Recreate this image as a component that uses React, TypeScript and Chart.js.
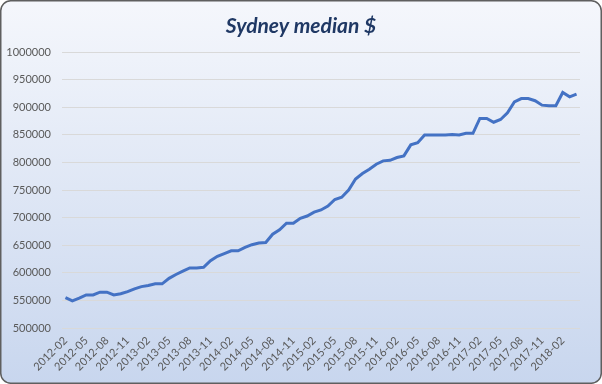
import React, { useEffect, useRef } from "react";
import { Chart, registerables } from "chart.js";

Chart.register(...registerables);

const title = "Sydney median $";

const months: string[] = (() => {
  const out: string[] = [];
  let y = 2012;
  let m = 2;
  for (let i = 0; i < 75; i++) {
    out.push(`${y}-${String(m).padStart(2, "0")}`);
    m++;
    if (m > 12) { m = 1; y++; }
  }
  return out;
})();

const medianPrice: number[] = [
  555000, 549000, 554000, 560000, 560000, 565000, 565000, 560000, 562000, 566000,
  571000, 575000, 577000, 580000, 580000, 590000, 597000, 603000, 609000, 609000,
  610000, 622000, 630000, 635000, 640000, 640000, 646000, 651000, 654000, 655000,
  670000, 678000, 690000, 690000, 699000, 703000, 710000, 714000, 721000, 733000,
  737000, 750000, 770000, 780000, 788000, 797000, 803000, 804000, 809000, 812000,
  832000, 836000, 850000, 850000, 850000, 850000, 851000, 850000, 853000, 853000,
  880000, 880000, 873000, 878000, 890000, 910000, 916000, 916000, 912000, 904000,
  903000, 903000, 927000, 919000, 924000,
];

const yMin = 500000;
const yMax = 1000000;
const yStep = 50000;

const bgPlugin = {
  id: "bgPanel",
  afterLayout(chart: any) {
    if (chart.titleBlock) {
      chart.titleBlock.left = 0;
      chart.titleBlock.right = chart.width;
    }
  },
  beforeDraw(chart: any) {
    const { ctx, width, height } = chart;
    ctx.save();
    const g = ctx.createLinearGradient(0, 0, 0, height);
    g.addColorStop(0, "#f5f7fc");
    g.addColorStop(1, "#c8d6ee");
    const r = 10;
    const x = 0.75, y = 0.75, w = width - 1.5, h = height - 1.5;
    ctx.beginPath();
    ctx.moveTo(x + r, y);
    ctx.lineTo(x + w - r, y);
    ctx.arcTo(x + w, y, x + w, y + r, r);
    ctx.lineTo(x + w, y + h - r);
    ctx.arcTo(x + w, y + h, x + w - r, y + h, r);
    ctx.lineTo(x + r, y + h);
    ctx.arcTo(x, y + h, x, y + h - r, r);
    ctx.lineTo(x, y + r);
    ctx.arcTo(x, y, x + r, y, r);
    ctx.closePath();
    ctx.fillStyle = g;
    ctx.fill();
    ctx.lineWidth = 1.5;
    ctx.strokeStyle = "#5f5f5f";
    ctx.stroke();
    ctx.restore();
  },
};

export default function App() {
  const ref = useRef<HTMLCanvasElement | null>(null);
  useEffect(() => {
    document.body.style.margin = "0";
    const canvas = ref.current!;
    const chart = new Chart(canvas, {
      type: "line",
      data: {
        labels: months,
        datasets: [
          {
            data: medianPrice,
            borderColor: "#4472c4",
            borderWidth: 3,
            pointRadius: 0,
            tension: 0,
            fill: false,
          },
        ],
      },
      options: {
        responsive: false,
        animation: false,
        layout: { padding: { left: 0, right: 22, top: 0, bottom: 0 } },
        plugins: {
          legend: { display: false },
          tooltip: { enabled: false },
          title: {
            display: true,
            text: title,
            color: "#1f3864",
            font: { family: "Lato", size: 21, weight: "bold", style: "italic" },
            padding: { top: 14, bottom: 13 },
          },
        },
        scales: {
          x: {
            type: "category",
            offset: true,
            grid: { display: false, drawTicks: false },
            border: { display: false },
            ticks: {
              autoSkip: false,
              maxRotation: 45,
              minRotation: 45,
              padding: 6,
              color: "#595959",
              font: { family: "Lato", size: 11 },
              callback: (_v: any, i: number) => (i % 3 === 0 ? months[i] : ""),
            },
            afterFit: (s: any) => { s.height = 56; },
          },
          y: {
            min: yMin,
            max: yMax,
            grid: { color: "#d9d9d9", drawTicks: false, lineWidth: 1 },
            border: { display: false },
            ticks: {
              stepSize: yStep,
              padding: 11,
              color: "#595959",
              font: { family: "Lato", size: 11 },
              callback: (v: any) => String(v),
            },
            afterFit: (s: any) => { s.width = 62; },
          },
        },
      },
      plugins: [bgPlugin],
    });
    return () => chart.destroy();
  }, []);
  return (
    <div style={{ width: 602, height: 384 }}>
      <canvas ref={ref} width={602} height={384} style={{ display: "block" }} />
    </div>
  );
}
